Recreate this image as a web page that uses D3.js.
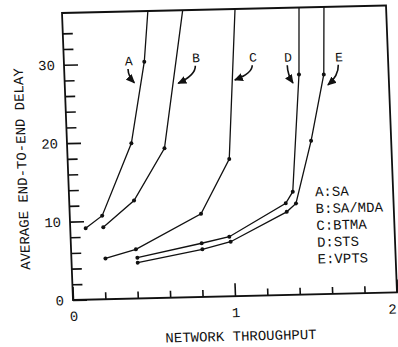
<!DOCTYPE html>
<html>
<head>
<meta charset="utf-8">
<script src="https://cdn.jsdelivr.net/npm/d3@7"></script>
<style>
  body { margin: 0; background: #fff; }
  svg { display: block; }
  text { font-family: "Liberation Mono", "Courier New", monospace; fill: #111; }
</style>
</head>
<body>
<div id="chart"></div>
<script>
// curve data (throughput, delay)
const throughputA = [0.095, 0.20, 0.397, 0.496];
const delayA      = [9.1, 10.66, 19.8, 30.15];
const throughputB = [0.204, 0.40, 0.60];
const delayB      = [9.17, 12.5, 19.06];
const throughputC = [0.21, 0.40, 0.81, 0.997];
const delayC      = [5.2, 6.27, 10.6, 17.5];
const throughputD = [0.407, 0.807, 0.979, 1.335, 1.381, 1.447];
const delayD      = [5.2, 6.85, 7.6, 11.7, 13.15, 28.07];
const throughputE = [0.408, 0.81, 0.986, 1.339, 1.398, 1.506, 1.60];
const delayE      = [4.57, 6.08, 6.96, 10.6, 11.65, 19.58, 28.0];
// where each curve leaves the top of the frame
const exitX = [0.53, 0.745, 1.068, 1.463, 1.617];

const seriesNames = ["A", "B", "C", "D", "E"];
const legendLabels = ["A:SA", "B:SA/MDA", "C:BTMA", "D:STS", "E:VPTS"];
// letter labels + arrow tips, in data units
const labelX = [0.40, 0.816, 1.167, 1.383, 1.698];
const labelY = [30.3, 30.5, 30.4, 30.3, 30.2];
const tipX   = [0.43, 0.70, 1.05, 1.408, 1.623];
const tipY   = [27.5, 27.3, 27.55, 27.0, 26.65];

const xMajor = [0, 1, 2];
const xMinor = [0.2, 0.4, 0.6, 0.8, 1.2, 1.4, 1.6, 1.8];
const yMajor = [0, 10, 20, 30];
const yMinor = [2, 4, 6, 8, 12, 14, 16, 18, 22, 24, 26, 28, 32, 34];

const width = 398, height = 347;
const innerW = 324, innerH = 287;
const yTop = 36.6;

const svg = d3.select("#chart").append("svg")
  .attr("width", width)
  .attr("height", height);

svg.append("defs").append("marker")
  .attr("id", "head")
  .attr("markerUnits", "userSpaceOnUse")
  .attr("viewBox", "0 -5 10 10")
  .attr("refX", 9).attr("refY", 0)
  .attr("markerWidth", 9).attr("markerHeight", 9)
  .attr("orient", "auto")
  .append("path")
  .attr("d", "M0,-4.5L10,0L0,4.5Z")
  .attr("fill", "#111");

// the scan is slightly rotated/sheared
const g = svg.append("g")
  .attr("transform", "matrix(1,-0.0232,0.0383,1,62,13)");

const x = d3.scaleLinear().domain([0, 2]).range([0, innerW]);
const y = d3.scaleLinear().domain([0, yTop]).range([innerH, 0]);

// ticks (inside the frame)
function styleAxis(sel) {
  sel.select(".domain").remove();
  sel.selectAll(".tick line").attr("stroke", "#111").attr("stroke-width", 1.6);
  sel.selectAll("text").style("font-size", "14px").attr("fill", "#111");
}

g.append("g").attr("transform", `translate(0,${innerH})`)
  .call(d3.axisBottom(x).tickValues(xMinor).tickSize(-7).tickFormat(""))
  .call(styleAxis);
const xLab = g.append("g").attr("transform", `translate(0,${innerH})`)
  .call(d3.axisBottom(x).tickValues(xMajor).tickSize(-13).tickPadding(11).tickFormat(d3.format("d")))
  .call(styleAxis);
// last label sits at the window edge: keep it inside
xLab.selectAll(".tick text").filter(d => d === 2).attr("text-anchor", "end").attr("dx", "-1.5");
g.append("g")
  .call(d3.axisLeft(y).tickValues(yMinor).tickSize(-10).tickFormat(""))
  .call(styleAxis);
g.append("g")
  .call(d3.axisLeft(y).tickValues(yMajor).tickSize(-14).tickPadding(9).tickFormat(d3.format("d")))
  .call(styleAxis);

// frame
g.append("rect")
  .attr("x", 0).attr("y", 0)
  .attr("width", innerW).attr("height", innerH)
  .attr("fill", "none")
  .attr("stroke", "#111")
  .attr("stroke-width", 1.8);

const curves = [
  [throughputA, delayA],
  [throughputB, delayB],
  [throughputC, delayC],
  [throughputD, delayD],
  [throughputE, delayE]
];

const line = d3.line().x(d => x(d[0])).y(d => y(d[1]));

curves.forEach(([xs, ys], i) => {
  const pts = xs.map((v, j) => [v, ys[j]]);
  g.append("path")
    .datum(pts.concat([[exitX[i], yTop]]))
    .attr("d", line)
    .attr("fill", "none")
    .attr("stroke", "#111")
    .attr("stroke-width", 1.3);
  g.selectAll(null).data(pts).enter().append("circle")
    .attr("cx", d => x(d[0]))
    .attr("cy", d => y(d[1]))
    .attr("r", 2)
    .attr("fill", "#111");
});

// letter labels with curved arrows
seriesNames.forEach((s, i) => {
  const lx = x(labelX[i]), ly = y(labelY[i]);
  g.append("text")
    .attr("x", lx).attr("y", ly + 4.5)
    .attr("text-anchor", "middle")
    .style("font-size", "13px")
    .text(s);
  const sx = lx - 1, sy = ly + 8;
  const tx = x(tipX[i]), ty = y(tipY[i]);
  const cy = sy + (ty - sy) * 0.55;
  g.append("path")
    .attr("d", `M${sx},${sy} Q${sx},${cy} ${tx},${ty}`)
    .attr("fill", "none")
    .attr("stroke", "#111")
    .attr("stroke-width", 1.6)
    .attr("marker-end", "url(#head)");
});

// legend
g.selectAll(".legend").data(legendLabels).enter().append("text")
  .attr("class", "legend")
  .attr("x", 246)
  .attr("y", (d, i) => 189 + i * 16.8)
  .style("font-size", "14px")
  .text(d => d);

// axis titles
g.append("text")
  .attr("x", innerW / 2 + 4.5).attr("y", 331.5)
  .attr("text-anchor", "middle")
  .style("font-size", "14px")
  .text("NETWORK THROUGHPUT");

g.append("text")
  .attr("transform", "translate(-41.5,155) rotate(-90)")
  .attr("text-anchor", "middle")
  .style("font-size", "14px")
  .text("AVERAGE END-TO-END DELAY");
</script>
</body>
</html>
